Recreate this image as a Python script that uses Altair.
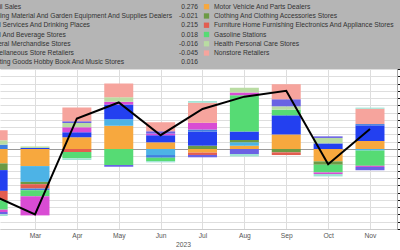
import altair as alt
import pandas as pd

FONT = "Liberation Sans, Arial, sans-serif"
FS = 6.7

# ---- data -------------------------------------------------------------
month_idx = [2, 3, 4, 5, 6, 7, 8, 9, 10, 11]          # Feb .. Nov 2023
month_names = ["Jan", "Feb", "Mar", "Apr", "May", "Jun",
               "Jul", "Aug", "Sep", "Oct", "Nov", "Dec"]

series = [
    "Motor Vehicle And Parts Dealers",
    "Building Material And Garden Equipment And Supplies Dealers",
    "Clothing And Clothing Accessories Stores",
    "Food Services And Drinking Places",
    "Furniture Home Furnishing Electronics And Appliance Stores",
    "Food And Beverage Stores",
    "Gasoline Stations",
    "General Merchandise Stores",
    "Health Personal Care Stores",
    "Miscellaneous Store Retailers",
    "Nonstore Retailers",
    "Sporting Goods Hobby Book And Music Stores",
]
colors = ["#f7a83e", "#4db3e6", "#6c9a45", "#2340f0", "#e35d50", "#3f7fe0",
          "#56db74", "#d94cd4", "#b9dca2", "#6a63e3", "#f6a49d", "#9fe3d3"]

motor     = [-0.198, -0.235, 0.160, 0.320, 0.092, -0.050, 0.046, 0.200, -0.170, 0.110]
building  = [0.000, -0.217, 0.000, 0.088, -0.083, 0.000, 0.046, 0.000, 0.000, -0.021]
clothing  = [-0.092, -0.032, 0.000, 0.000, 0.000, 0.046, 0.032, -0.046, -0.046, 0.000]
foodserv  = [-0.286, 0.015, 0.069, 0.205, 0.097, 0.194, 0.115, 0.263, 0.077, 0.215]
furniture = [-0.129, -0.060, -0.040, 0.000, 0.000, -0.032, 0.000, -0.037, 0.000, 0.000]
foodbev   = [0.060, -0.023, 0.000, 0.000, -0.037, 0.028, 0.000, 0.000, 0.000, 0.018]
gasoline  = [-0.129, -0.083, -0.087, -0.220, -0.046, 0.000, 0.500, 0.078, -0.106, -0.210]
genmerch  = [-0.032, -0.263, 0.069, 0.037, 0.023, 0.092, 0.037, 0.000, -0.022, -0.016]
health    = [0.060, 0.020, 0.060, 0.060, 0.000, 0.000, 0.065, 0.046, 0.075, 0.000]
misc      = [-0.032, 0.000, 0.022, -0.023, 0.032, -0.032, -0.070, 0.097, 0.022, -0.045]
nonstore  = [0.138, 0.000, 0.190, 0.190, 0.124, 0.276, 0.000, 0.207, 0.000, 0.210]
sporting  = [-0.023, 0.000, -0.023, 0.000, -0.018, 0.023, -0.032, 0.000, -0.033, 0.016]

total = [-0.64, -0.90, 0.42, 0.64, 0.19, 0.55, 0.72, 0.80, -0.21, 0.276]

left_names = ["Retail Sales",
              "Building Material And Garden Equipment And Supplies Dealers",
              "Food Services And Drinking Places",
              "Food And Beverage Stores",
              "General Merchandise Stores",
              "Miscellaneous Store Retailers",
              "Sporting Goods Hobby Book And Music Stores"]
left_values = ["0.276", "-0.021", "0.215", "0.018", "-0.016", "-0.045", "0.016"]
right_names = ["Motor Vehicle And Parts Dealers",
               "Clothing And Clothing Accessories Stores",
               "Furniture Home Furnishing Electronics And Appliance Stores",
               "Gasoline Stations",
               "Health Personal Care Stores",
               "Nonstore Retailers"]

y_ticks = [round(i * 0.1, 1) for i in range(-11, 12)]

# ---- tables -----------------------------------------------------------
values = [motor, building, clothing, foodserv, furniture, foodbev,
          gasoline, genmerch, health, misc, nonstore, sporting]
rows = []
for k, (s, vals) in enumerate(zip(series, values)):
    for m, v in zip(month_idx, vals):
        rows.append({"m": m, "series": s, "v": v, "ord": k})
bars_df = pd.DataFrame(rows)
line_df = pd.DataFrame({"m": month_idx, "total": total})
left_df = pd.DataFrame({"row": list(range(1, 8)), "name": left_names, "val": left_values})
right_df = pd.DataFrame({"row": list(range(1, 7)), "name": right_names})

# ---- scales / axes ----------------------------------------------------
label_expr = "[" + ",".join("'%s'" % n for n in month_names) + "][datum.value - 1]"
x_scale = alt.Scale(domain=[2.164, 11.645], nice=False, zero=False, padding=0)
x_axis = alt.Axis(values=month_idx, labelExpr=label_expr, grid=True,
                  gridColor="#dddddd", gridWidth=1, domainColor="#cccccc",
                  ticks=False, labelColor="#555555", labelFontSize=FS,
                  labelFont=FONT, labelPadding=3, labelFlush=False,
                  title="2023", titleX=183, titleY=12, titleBaseline="top",
                  titleFontSize=FS, titleFontWeight="normal",
                  titleColor="#555555", titleFont=FONT)
y_scale = alt.Scale(domain=[-1.1, 1.1], nice=False, zero=False, padding=0)
y_axis = alt.Axis(orient="right", values=y_ticks, labels=False, title=None,
                  grid=True,
                  gridColor={"condition": {"test": "datum.value === 0", "value": "#9a9a9a"},
                             "value": "#dedede"},
                  tickColor="#111111", tickSize=3, domainColor="#aaaaaa")
color_scale = alt.Scale(domain=series, range=colors)

bars = alt.Chart(bars_df).mark_bar(size=29).encode(
    x=alt.X("m:Q", scale=x_scale, axis=x_axis),
    y=alt.Y("v:Q", stack="zero", scale=y_scale, axis=y_axis),
    color=alt.Color("series:N", scale=color_scale, legend=None),
    order=alt.Order("ord:Q", sort="ascending"),
)
line = alt.Chart(line_df).mark_line(color="#000000", strokeWidth=2).encode(
    x=alt.X("m:Q", scale=x_scale, axis=x_axis),
    y=alt.Y("total:Q", scale=y_scale, axis=y_axis),
)
main = alt.layer(bars, line)

# ---- legend panel -----------------------------------------------------
row_y = alt.Y("row:Q", scale=alt.Scale(domain=[1, 7], range=[-62.3, -6.7]), axis=None)
legend_bg = alt.Chart(pd.DataFrame({"a": [0]})).mark_rect(color="#b5b5b5").encode(
    x=alt.value(0), x2=alt.value(400), y=alt.value(-69), y2=alt.value(0))
left_txt = alt.Chart(left_df).mark_text(align="left", baseline="middle", font=FONT,
                                        fontSize=FS, color="#333333").encode(
    x=alt.value(-14.5), y=row_y, text="name:N")
left_val = alt.Chart(left_df).mark_text(align="right", baseline="middle", font=FONT,
                                        fontSize=FS, color="#333333").encode(
    x=alt.value(198), y=row_y, text="val:N")
right_sw = alt.Chart(right_df).mark_square(size=28, opacity=1).encode(
    x=alt.value(206.5), y=row_y,
    color=alt.Color("name:N", scale=color_scale, legend=None))
right_txt = alt.Chart(right_df).mark_text(align="left", baseline="middle", font=FONT,
                                          fontSize=FS, color="#333333").encode(
    x=alt.value(214), y=row_y, text="name:N")
legend = alt.layer(legend_bg, left_txt, left_val, right_sw, right_txt)

chart = alt.layer(main, legend).resolve_scale(y="independent").properties(
    width=397, height=160,
    autosize=alt.AutoSizeParams(type="none"),
    padding={"left": 0, "top": 69, "right": 3, "bottom": 21},
    background="#ffffff",
).configure_view(stroke=None)

chart.save("out.html", embed_options={"renderer": "svg", "actions": False})
